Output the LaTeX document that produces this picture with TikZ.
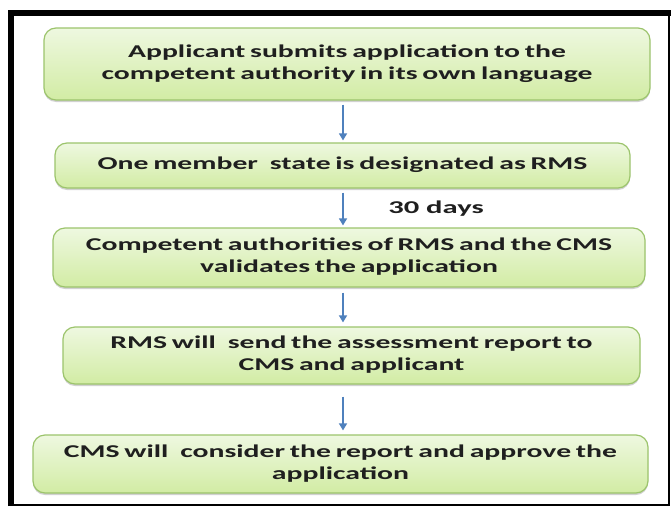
\documentclass[tikz,border=0pt]{standalone}
\usepackage{fontspec}
\setmainfont{Carlito}
\usetikzlibrary{arrows.meta,shadows}
\definecolor{boxtop}{HTML}{EEF8E0}
\definecolor{boxbot}{HTML}{D2ECA4}
\definecolor{boxline}{HTML}{9CC46C}
\definecolor{arrowblue}{HTML}{4F81BD}
\newcommand\widetext[1]{\raisebox{3pt}{\scalebox{1.65}[1]{\spaceskip=0.16em\relax
  \begin{tabular}{@{}c@{}}#1\end{tabular}}}}
\begin{document}
\begin{tikzpicture}[x=1pt,y=-1pt,
  stepbox/.style={rectangle, rounded corners=12pt, draw=boxline, line width=1.2pt,
    top color=boxtop, bottom color=boxbot, align=center, inner sep=0pt,
    font=\bfseries\fontsize{18}{22}\selectfont, text=black!88,
    drop shadow={shadow xshift=0pt, shadow yshift=-2pt, fill=black, opacity=0.18}},
  arr/.style={draw=arrowblue, line width=1.5pt, -{Triangle[width=8pt,length=7pt]}},
  lbl/.style={font=\bfseries\fontsize{18}{22}\selectfont, text=black!88, inner sep=0pt}]
\useasboundingbox (0,0) rectangle (671,506);
\fill[white] (0,0) rectangle (671,506);
% frame
\draw[line width=6pt] (11,506) -- (11,13) -- (671,13);
\draw[line width=2pt] (669,13) -- (669,505) -- (11,505);
% boxes
\node[stepbox, minimum width=606pt, minimum height=72pt] (b1) at (347,64)
  {\raisebox{2pt}{\widetext{Applicant submits application to the\\competent authority in its own language}}};
\node[stepbox, minimum width=575pt, minimum height=45pt] (b2) at (342.5,165.5)
  {\widetext{One member\hskip0.4em state is designated as RMS}};
\node[stepbox, minimum width=592pt, minimum height=59pt] (b3) at (349,257.5)
  {\widetext{Competent authorities of RMS and the CMS\\validates the application}};
\node[stepbox, minimum width=577pt, minimum height=57pt] (b4) at (351.5,355.5)
  {\widetext{RMS will\hskip0.4em send the assessment report to\\CMS and applicant}};
\node[stepbox, minimum width=615pt, minimum height=58pt] (b5) at (340.5,464)
  {\widetext{CMS will\hskip0.4em consider the report and approve the\\application}};
% arrows
\coordinate (ax) at (343,0);
\draw[arr] ([yshift=-4pt]b1.south -| ax) -- ([yshift=2pt]b2.north -| ax);
\draw[arr] ([yshift=-4pt]b2.south -| ax) -- ([yshift=2pt]b3.north -| ax);
\draw[arr] ([yshift=-5pt]b3.south -| ax) -- ([yshift=4pt]b4.north -| ax);
\draw[arr] ([yshift=-12pt]b4.south -| ax) -- ([yshift=4pt]b5.north -| ax);
\node[lbl] (days) at (436,209) {\scalebox{1.7}[1]{30 days}};
\end{tikzpicture}
\end{document}
